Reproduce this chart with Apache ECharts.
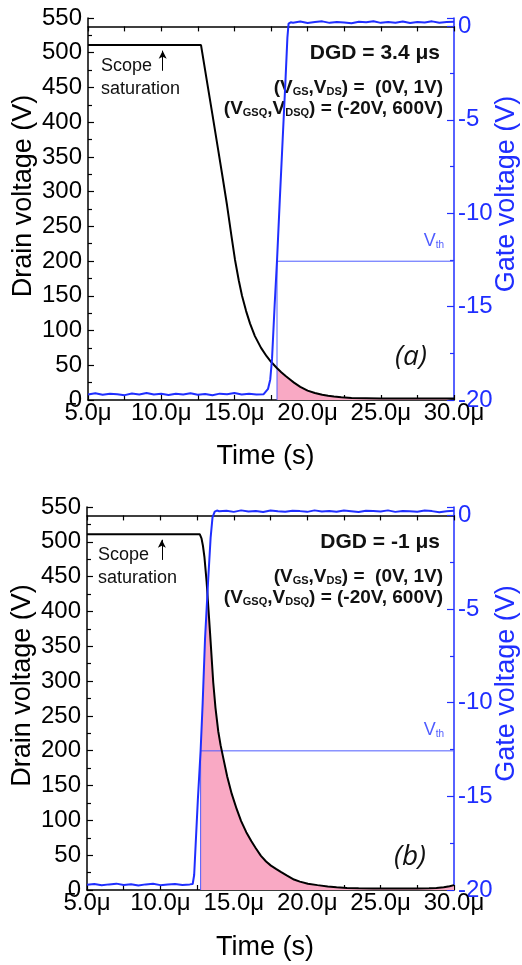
<!DOCTYPE html>
<html><head><meta charset="utf-8">
<script src="https://cdn.jsdelivr.net/npm/echarts@6/dist/echarts.min.js"></script>
<style>html,body{margin:0;padding:0;background:#fff}#c{width:522px;height:965px}</style>
</head><body><div id="c"></div>
<script>
// ---------- data ----------
const xTickValues = [5, 10, 15, 20, 25, 30];
const xTickLabels = ['5.0μ', '10.0μ', '15.0μ', '20.0μ', '25.0μ', '30.0μ'];
const drainTicks = [0, 50, 100, 150, 200, 250, 300, 350, 400, 450, 500, 550];
const gateTicks = [-20, -15, -10, -5, 0];

// panel (a)
const drainTimeA = [5.0, 8.0, 11.0, 12.72, 13.1, 13.5, 13.9, 14.2, 14.5, 14.8, 15.04, 15.3, 15.52, 15.8, 16.07, 16.4, 16.82, 17.2, 17.5, 17.9, 18.2, 18.5, 18.8, 19.07, 19.5, 20.0, 20.5, 21.0, 21.4, 21.8, 22.3, 23.0, 24.0, 25.0, 26.0, 27.0, 28.0, 29.0, 30.0];
const drainA     = [511, 511, 511, 511, 462, 411, 359, 320, 280, 236, 202, 172, 150, 128, 110, 92, 75, 63, 55, 46, 40, 34.5, 29.5, 25, 19, 13.5, 10, 7.5, 6, 5, 4, 3, 2.5, 2, 2, 2, 2, 2, 2];
const gateTimeA = [5.0, 5.5, 6.0, 6.5, 7.0, 7.5, 8.0, 8.5, 9.0, 9.5, 10.0, 10.5, 11.0, 11.5, 12.0, 12.5, 13.0, 13.5, 14.0, 14.5, 15.0, 15.5, 16.0, 16.5, 17.0,
  17.1, 17.3, 17.45, 17.57, 17.75, 17.91, 18.1, 18.3, 18.5, 18.62, 18.7, 18.85,
  19.0, 19.5, 20.0, 20.5, 21.0, 21.5, 22.0, 22.5, 23.0, 23.5, 24.0, 24.5, 25.0, 25.5, 26.0, 26.5, 27.0, 27.5, 28.0, 28.5, 29.0, 29.5, 30.0];
const gateA = [-19.70, -19.64, -19.72, -19.66, -19.69, -19.74, -19.65, -19.70, -19.62, -19.71, -19.67, -19.73, -19.66, -19.70, -19.64, -19.72, -19.68, -19.75, -19.66, -19.69, -19.63, -19.71, -19.67, -19.70, -19.69,
  -19.65, -19.4, -18.9, -17.8, -14.9, -12.55, -9.3, -6.0, -2.7, -0.6, 0.15, 0.22,
  0.20, 0.26, 0.18, 0.23, 0.27, 0.19, 0.24, 0.21, 0.17, 0.25, 0.22, 0.28, 0.19, 0.23, 0.20, 0.26, 0.18, 0.24, 0.21, 0.27, 0.20, 0.23, 0.25];
const thresholdTimeA = 17.91;

// panel (b)
const drainTimeB = [5.0, 8.0, 11.0, 12.68, 12.8, 12.9, 13.0, 13.15, 13.38, 13.6, 13.75, 13.94, 14.1, 14.3, 14.55, 14.86, 15.2, 15.5, 15.85, 16.2, 16.5, 16.85, 17.2, 17.53, 17.9, 18.2, 18.6, 19.1, 19.5, 20.05, 20.7, 21.4, 22.0, 22.7, 23.5, 24.5, 25.5, 26.5, 27.5, 28.3, 28.8, 29.3, 29.7, 30.0];
const drainB     = [511, 511, 511, 511, 505, 494, 478, 442, 370, 298, 262, 228, 208, 188, 163, 138, 116, 99, 83, 70, 60, 49, 41, 35, 30, 26, 21, 15, 12, 9, 7, 5, 4, 3, 2.5, 2, 2, 2, 2, 2.5, 3, 4, 5.5, 7];
const gateTimeB = [5.0, 5.5, 6.0, 6.5, 7.0, 7.5, 8.0, 8.5, 9.0, 9.5, 10.0, 10.5, 11.0, 11.5, 12.0,
  12.2, 12.3, 12.4, 12.55, 12.74, 12.88, 13.04, 13.25, 13.42, 13.55, 13.7, 13.85,
  14.0, 14.5, 15.0, 15.5, 16.0, 16.5, 17.0, 17.5, 18.0, 18.5, 19.0, 19.5, 20.0, 20.5, 21.0, 21.5, 22.0, 22.5, 23.0, 23.5, 24.0, 24.5, 25.0, 25.5, 26.0, 26.5, 27.0, 27.5, 28.0, 28.5, 29.0, 29.5, 30.0];
const gateB = [-19.72, -19.68, -19.75, -19.70, -19.66, -19.73, -19.69, -19.76, -19.70, -19.67, -19.74, -19.71, -19.68, -19.73, -19.70,
  -19.68, -19.2, -17.6, -15.2, -12.55, -10.0, -6.6, -3.5, -1.2, -0.1, 0.2, 0.26,
  0.22, 0.25, 0.19, 0.27, 0.21, 0.24, 0.18, 0.26, 0.22, 0.20, 0.25, 0.23, 0.19, 0.27, 0.21, 0.24, 0.20, 0.26, 0.22, 0.18, 0.25, 0.23, 0.21, 0.27, 0.19, 0.24, 0.22, 0.20, 0.26, 0.23, 0.17, 0.22, 0.25];
const thresholdTimeB = 12.74;

const thresholdGate = -12.57;      // V_th on the gate axis
const arrowTime = 10.1, arrowTail = 474, arrowTip = 503;   // "Scope saturation" arrow

// ---------- helpers ----------
const G_MIN = -20, G_MAX = 0.45, D_MIN = 0, D_MAX = 550;
function gateToDrain(g) { return D_MIN + (g - G_MIN) / (G_MAX - G_MIN) * (D_MAX - D_MIN); }
function interp(ts, vs, t) {
  if (t <= ts[0]) return vs[0];
  for (let i = 1; i < ts.length; i++) {
    if (t <= ts[i]) { const f = (t - ts[i-1]) / (ts[i] - ts[i-1]); return vs[i-1] + f * (vs[i] - vs[i-1]); }
  }
  return vs[vs.length - 1];
}
function overlap(dT, dV, gT, gV, tTh) {
  const ts = Array.from(new Set([tTh].concat(dT, gT))).filter(t => t >= tTh).sort((a, b) => a - b);
  return ts.map(t => [t, Math.max(0, Math.min(interp(dT, dV, t), gateToDrain(interp(gT, gV, t))))]);
}
const zip = (a, b) => a.map((v, i) => [v, b[i]]);

const FONT = "'Liberation Sans', Arial, sans-serif";
const BLUE = '#1f2eff';
const VTH_BLUE = '#4f5cff';
const PINK = '#f9a9c4';

function xLabel(v) {
  const i = xTickValues.findIndex(t => Math.abs(t - v) < 1e-6);
  return i >= 0 ? xTickLabels[i] : '';
}
function gateLabel(v) {
  const i = gateTicks.findIndex(t => Math.abs(t - v) < 1e-6);
  return i >= 0 ? String(gateTicks[i]) : '';
}

const grids = [
  { left: 88, top: 18, width: 366, height: 382, containLabel: false, outerBoundsMode: 'none' },
  { left: 87, top: 507, width: 367, height: 383, containLabel: false, outerBoundsMode: 'none' }
];

const xAxes = [], yAxes = [];
grids.forEach((g, gi) => {
  xAxes.push({
    gridIndex: gi, type: 'value', min: 5, max: 30, interval: 2.5, position: 'bottom',
    axisLine: { show: true, lineStyle: { color: '#000', width: 1.5 } },
    axisTick: { show: true, inside: true, length: 5, lineStyle: { color: '#000', width: 1.2 } },
    axisLabel: { color: '#000', fontSize: 24, fontFamily: FONT, margin: 1, formatter: xLabel, showMinLabel: true, showMaxLabel: true },
    splitLine: { show: false },
    name: 'Time (s)', nameLocation: 'middle', nameGap: gi === 0 ? 43 : 44, nameMoveOverlap: false,
    nameTextStyle: { fontSize: 27, color: '#000', fontFamily: FONT, padding: [0, 11, 0, 0] }
  });
  xAxes.push({
    gridIndex: gi, type: 'value', min: 5, max: 30, interval: 2.5, position: 'top',
    axisLine: { show: true, lineStyle: { color: '#000', width: 1.5 } },
    axisTick: { show: true, inside: true, length: 5, lineStyle: { color: '#000', width: 1.2 } },
    axisLabel: { show: false }, splitLine: { show: false }
  });
  yAxes.push({
    gridIndex: gi, type: 'value', min: drainTicks[0], max: drainTicks[drainTicks.length - 1], interval: 50, position: 'left',
    axisLine: { show: true, lineStyle: { color: '#000', width: 1.5 } },
    axisTick: { show: true, inside: true, length: 6, lineStyle: { color: '#000', width: 1.2 } },
    minorTick: { show: true, splitNumber: 2, length: 4, lineStyle: { color: '#000', width: 1.2 } },
    axisLabel: { color: '#000', fontSize: 24, fontFamily: FONT, margin: 6 },
    splitLine: { show: false }, minorSplitLine: { show: false },
    name: 'Drain voltage (V)', nameLocation: 'middle', nameGap: 51, nameMoveOverlap: false,
    nameTextStyle: { fontSize: 27, color: '#000', fontFamily: FONT, padding: [0, 0, 0, 26] }
  });
  yAxes.push({
    gridIndex: gi, type: 'value', min: G_MIN, max: G_MAX, interval: 5, position: 'right',
    axisLine: { show: true, lineStyle: { color: BLUE, width: 1.5 } },
    axisTick: { show: true, inside: true, length: 7, lineStyle: { color: BLUE, width: 1.2 } },
    minorTick: { show: true, splitNumber: 2, length: 4, lineStyle: { color: BLUE, width: 1.2 } },
    axisLabel: { color: BLUE, fontSize: 24, fontFamily: FONT, margin: 4, formatter: gateLabel, showMaxLabel: false },
    splitLine: { show: false }, minorSplitLine: { show: false },
    name: 'Gate voltage (V)', nameLocation: 'middle', nameGap: 39, nameMoveOverlap: false,
    nameTextStyle: { fontSize: 27, color: BLUE, fontFamily: FONT, padding: [0, 0, 0, 30] }
  });
});

const panels = [
  { dT: drainTimeA, dV: drainA, gT: gateTimeA, gV: gateA, tTh: thresholdTimeA },
  { dT: drainTimeB, dV: drainB, gT: gateTimeB, gV: gateB, tTh: thresholdTimeB }
];
const vthDrain = gateToDrain(thresholdGate);
const series = [];
panels.forEach((p, gi) => {
  const xi = gi * 2, yl = gi * 2, yr = gi * 2 + 1;
  series.push({
    type: 'line', xAxisIndex: xi, yAxisIndex: yl, z: 1, symbol: 'none', silent: true,
    data: overlap(p.dT, p.dV, p.gT, p.gV, p.tTh),
    lineStyle: { width: 0 }, areaStyle: { color: PINK, opacity: 1 }
  });
  series.push({
    type: 'line', xAxisIndex: xi, yAxisIndex: yl, z: 2, symbol: 'none', silent: true,
    data: [[p.tTh, 0], [p.tTh, vthDrain], [30, vthDrain]],
    lineStyle: { color: VTH_BLUE, width: 1 }
  });
  series.push({
    type: 'line', xAxisIndex: xi, yAxisIndex: yl, z: 3, symbol: 'none', silent: true,
    data: zip(p.dT, p.dV),
    lineStyle: { color: '#000', width: 2 },
    markLine: {
      silent: true, symbol: ['none', 'arrow'], symbolSize: [6, 8],
      lineStyle: { color: '#000', width: 1, type: 'solid' }, label: { show: false },
      data: [[{ coord: [arrowTime, arrowTail] }, { coord: [arrowTime, arrowTip] }]]
    }
  });
  series.push({
    type: 'line', xAxisIndex: xi, yAxisIndex: yr, z: 4, symbol: 'none', silent: true,
    data: zip(p.gT, p.gV),
    lineStyle: { color: BLUE, width: 2 }
  });
});

const M = { fontSize: 19, fontWeight: 'bold', fontFamily: FONT, fill: '#111', verticalAlign: 'bottom' };
const S = { fontSize: 11, fontWeight: 'bold', fontFamily: FONT, fill: '#111', verticalAlign: 'bottom' };
function annot(dx, top, dgd) {
  return [
    { type: 'text', x: dx + 13, y: top + 48, style: { text: 'Scope', font: '18px ' + FONT, fill: '#111', verticalAlign: 'middle' } },
    { type: 'text', x: dx + 13, y: top + 71, style: { text: 'saturation', font: '18px ' + FONT, fill: '#111', verticalAlign: 'middle' } },
    { type: 'text', x: 440, y: top + 35, style: { text: dgd, font: 'bold 21px ' + FONT, fill: '#111', align: 'right', verticalAlign: 'middle' } },
    { type: 'text', x: 443, y: top + 70, style: { text: '{m|(V}{s|GS}{m|,V}{s|DS}{m|) =  (0V, 1V)}', rich: { m: M, s: S }, align: 'right', verticalAlign: 'middle' } },
    { type: 'text', x: 443, y: top + 91, style: { text: '{m|(V}{s|GSQ}{m|,V}{s|DSQ}{m|) = (-20V, 600V)}', rich: { m: M, s: S }, align: 'right', verticalAlign: 'middle' } },
    { type: 'text', x: 444, y: top + 223, style: { text: '{v|V}{s|th}', rich: { v: { fontSize: 18, fontFamily: FONT, fill: VTH_BLUE, verticalAlign: 'bottom' }, s: { fontSize: 10, fontFamily: FONT, fill: VTH_BLUE, verticalAlign: 'bottom' } }, align: 'right', verticalAlign: 'middle' } }
  ];
}
const graphic = [].concat(
  annot(88, 18, 'DGD = 3.4 μs'),
  [{ type: 'text', x: 411, y: 357, style: { text: '(a)', font: 'italic 28px "Open Sans", sans-serif', fill: '#111', align: 'center', verticalAlign: 'middle' } }],
  annot(85, 507, 'DGD = -1 μs'),
  [{ type: 'text', x: 410, y: 857, style: { text: '(b)', font: 'italic 28px "Open Sans", sans-serif', fill: '#111', align: 'center', verticalAlign: 'middle' } }]
);

const chart = echarts.init(document.getElementById('c'), null, { renderer: 'canvas' });
chart.setOption({
  animation: false,
  backgroundColor: '#fff',
  grid: grids,
  xAxis: xAxes,
  yAxis: yAxes,
  series: series,
  graphic: graphic
});
</script>
</body></html>
